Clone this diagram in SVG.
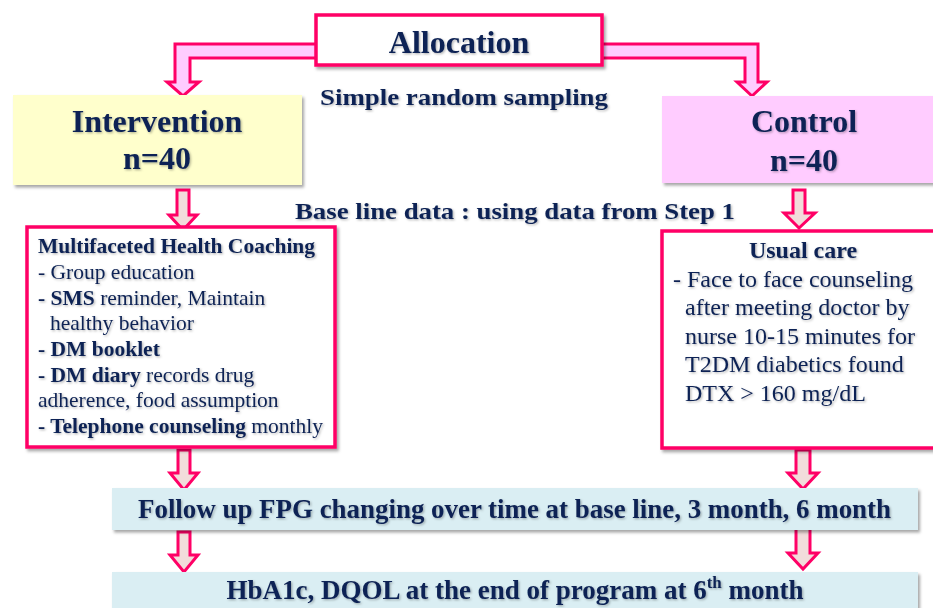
<svg xmlns="http://www.w3.org/2000/svg" width="933" height="608" viewBox="0 0 933 608">
  <defs>
    <filter id="boxShadow" x="-5%" y="-5%" width="115%" height="125%">
      <feDropShadow dx="2" dy="2.5" stdDeviation="1.5" flood-color="#000" flood-opacity="0.35"/>
    </filter>
    <filter id="textShadow" x="-5%" y="-20%" width="110%" height="150%">
      <feDropShadow dx="1.2" dy="1.2" stdDeviation="0.9" flood-color="#000" flood-opacity="0.3"/>
    </filter>
  </defs>
  <style>
    text { font-family: "Liberation Serif", "Times New Roman", serif; fill: #0E2454; }
    .t { filter: url(#textShadow); }
    .b { font-weight: bold; }
    .title { font-size: 32px; font-weight: bold; text-anchor: middle; }
    .sub { font-size: 24px; font-weight: bold; }
    .list { font-size: 21.5px; }
    .care { font-size: 24px; }
    .band { font-size: 27px; font-weight: bold; }
    .frame { fill: #FFFFFF; stroke: #FF0066; stroke-width: 3.5; filter: url(#boxShadow); }
    .arrow { fill: #F2DCDB; stroke: #FF0066; stroke-width: 3; stroke-linejoin: miter; }
    .bent { fill: #FFCCFF; stroke: #FF0066; stroke-width: 3; stroke-linejoin: miter; }
  </style>

  <rect width="933" height="608" fill="#FFFFFF"/>

  <!-- connectors -->
  <g id="connectors">
    <path class="bent" d="M318,44 H175 V82 H167 L183,96 L199,82 H190 V58 H318 Z"/>
    <path class="bent" d="M600,44 H758 V82 H767 L752,96 L737,82 H745 V58 H600 Z"/>
    <path class="arrow" d="M177,190 H189 V215 H197 L183,230 L169,215 H177 Z"/>
    <path class="arrow" d="M793,190 H805 V213 H815 L799,228 L784,213 H793 Z"/>
    <path class="arrow" d="M178,450 H190 V473 H198 L184,490 L170,473 H178 Z"/>
    <path class="arrow" d="M178,532 H190 V555 H198 L184,572 L170,555 H178 Z"/>
    <path class="arrow" d="M796,450 H810 V473 H818 L803,489 L788,473 H796 Z"/>
    <path class="arrow" d="M796,528 H810 V553 H818 L803,569 L788,553 H796 Z"/>
  </g>

  <!-- Allocation -->
  <g id="allocation">
    <rect class="frame" x="316" y="15" width="286" height="50"/>
    <text class="title t" x="459" y="53">Allocation</text>
  </g>

  <g id="sampling">
    <text class="sub t" x="320" y="105" textLength="288" lengthAdjust="spacingAndGlyphs">Simple random sampling</text>
  </g>

  <!-- Intervention arm -->
  <g id="intervention">
    <rect x="13" y="95" width="289" height="90" fill="#FFFFCC" filter="url(#boxShadow)"/>
    <text class="title t" x="157" y="132">Intervention</text>
    <text class="title t" x="157" y="169">n=40</text>
  </g>

  <!-- Control arm -->
  <g id="control">
    <rect x="662" y="96" width="285" height="87" fill="#FFCCFF" filter="url(#boxShadow)"/>
    <text class="title t" x="804" y="132">Control</text>
    <text class="title t" x="804" y="171">n=40</text>
  </g>

  <g id="baseline">
    <text class="sub t" x="295" y="219" textLength="440" lengthAdjust="spacingAndGlyphs">Base line data : using data from Step 1</text>
  </g>

  <!-- Intervention content -->
  <g id="coaching">
    <rect class="frame" x="27" y="227" width="308" height="220"/>
    <g class="list t">
      <text x="38" y="253" class="b">Multifaceted Health Coaching</text>
      <text x="38" y="279">- Group education</text>
      <text x="38" y="305"><tspan class="b">- SMS</tspan> reminder, Maintain</text>
      <text x="50" y="330">healthy behavior</text>
      <text x="38" y="356" class="b">- DM booklet</text>
      <text x="38" y="382"><tspan class="b">- DM diary</tspan> records drug</text>
      <text x="38" y="407">adherence, food assumption</text>
      <text x="38" y="433"><tspan class="b">- Telephone counseling</tspan> monthly</text>
    </g>
  </g>

  <!-- Control content -->
  <g id="usual-care">
    <rect class="frame" x="662" y="231" width="285" height="217"/>
    <g class="care t">
      <text x="803" y="258" class="b" text-anchor="middle">Usual care</text>
      <text x="673" y="287">- Face to face counseling</text>
      <text x="685" y="315">after meeting doctor by</text>
      <text x="685" y="344">nurse 10-15 minutes for</text>
      <text x="685" y="372">T2DM diabetics found</text>
      <text x="685" y="401">DTX &gt; 160 mg/dL</text>
    </g>
  </g>

  <!-- Outcomes -->
  <g id="follow-up">
    <rect x="112" y="488" width="806" height="42" fill="#DAEEF3" filter="url(#boxShadow)"/>
    <text class="band t" x="138" y="518" textLength="753" lengthAdjust="spacingAndGlyphs">Follow up FPG changing over time at base line, 3 month, 6 month</text>
  </g>

  <g id="endpoint">
    <rect x="112" y="572" width="806" height="46" fill="#DAEEF3" filter="url(#boxShadow)"/>
    <text class="band t" x="515" y="599" text-anchor="middle">HbA1c, DQOL at the end of program at 6<tspan font-size="17" dy="-11">th</tspan><tspan dy="11"> month</tspan></text>
  </g>
</svg>
